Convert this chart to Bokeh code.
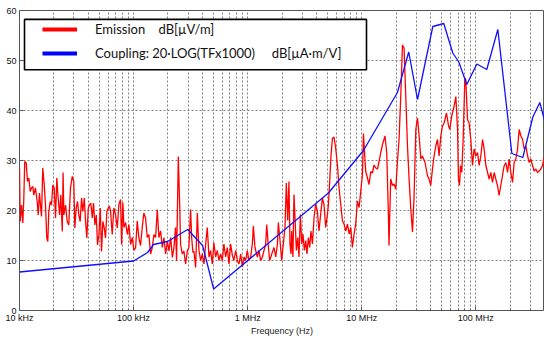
import numpy as np
from bokeh.plotting import figure
from bokeh.models import Range1d, FixedTicker, BoxAnnotation, Legend, LegendItem
from bokeh.embed import file_html
from bokeh.resources import INLINE

# Radiated emission sweep: log10(frequency / Hz) and level in dB[µV/m]
emission_log10_hz = [
    4.000, 4.006, 4.018, 4.029, 4.038, 4.046, 4.059, 4.070, 4.082, 4.094,
    4.105, 4.117, 4.125, 4.140, 4.155, 4.164, 4.175, 4.184, 4.193, 4.204,
    4.217, 4.228, 4.239, 4.248, 4.257, 4.269, 4.281, 4.292, 4.304, 4.316,
    4.327, 4.339, 4.351, 4.362, 4.375, 4.382, 4.389, 4.404, 4.418, 4.432,
    4.447, 4.462, 4.476, 4.485, 4.497, 4.509, 4.520, 4.532, 4.544, 4.555,
    4.568, 4.579, 4.590, 4.603, 4.614, 4.625, 4.638, 4.649, 4.661, 4.673,
    4.684, 4.696, 4.708, 4.719, 4.731, 4.743, 4.754, 4.766, 4.778, 4.789,
    4.798, 4.813, 4.827, 4.842, 4.857, 4.871, 4.886, 4.895, 4.906, 4.915,
    4.930, 4.945, 4.959, 4.974, 4.989, 5.003, 5.018, 5.032, 5.046, 5.061,
    5.076, 5.090, 5.105, 5.120, 5.134, 5.149, 5.164, 5.178, 5.193, 5.208,
    5.222, 5.237, 5.252, 5.266, 5.281, 5.296, 5.310, 5.325, 5.340, 5.354,
    5.368, 5.377, 5.392, 5.404, 5.412, 5.427, 5.441, 5.456, 5.471, 5.485,
    5.500, 5.509, 5.520, 5.529, 5.544, 5.559, 5.573, 5.588, 5.602, 5.617,
    5.632, 5.646, 5.661, 5.675, 5.690, 5.704, 5.719, 5.734, 5.748, 5.763,
    5.778, 5.792, 5.807, 5.822, 5.836, 5.851, 5.866, 5.880, 5.895, 5.910,
    5.924, 5.939, 5.954, 5.968, 5.982, 5.997, 6.011, 6.026, 6.041, 6.050,
    6.064, 6.085, 6.099, 6.114, 6.129, 6.143, 6.158, 6.167, 6.182, 6.193,
    6.211, 6.231, 6.246, 6.261, 6.269, 6.281, 6.298, 6.313, 6.327, 6.339,
    6.351, 6.362, 6.371, 6.380, 6.386, 6.397, 6.406, 6.415, 6.427, 6.439,
    6.450, 6.462, 6.474, 6.485, 6.497, 6.509, 6.520, 6.532, 6.544, 6.555,
    6.568, 6.582, 6.596, 6.611, 6.625, 6.640, 6.655, 6.669, 6.684, 6.699,
    6.708, 6.719, 6.731, 6.743, 6.757, 6.772, 6.787, 6.801, 6.816, 6.831,
    6.845, 6.860, 6.875, 6.889, 6.904, 6.918, 6.933, 6.947, 6.962, 6.977,
    6.991, 7.006, 7.015, 7.026, 7.035, 7.050, 7.064, 7.079, 7.094, 7.108,
    7.123, 7.138, 7.152, 7.167, 7.182, 7.204, 7.219, 7.234, 7.239, 7.254,
    7.269, 7.283, 7.298, 7.313, 7.327, 7.342, 7.357, 7.371, 7.386, 7.401,
    7.415, 7.430, 7.445, 7.459, 7.474, 7.489, 7.503, 7.518, 7.532, 7.555,
    7.576, 7.590, 7.605, 7.620, 7.634, 7.649, 7.664, 7.678, 7.693, 7.708,
    7.722, 7.743, 7.761, 7.772, 7.789, 7.810, 7.825, 7.840, 7.848, 7.857,
    7.866, 7.877, 7.889, 7.904, 7.912, 7.927, 7.941, 7.956, 7.971, 7.985,
    8.000, 8.015, 8.029, 8.044, 8.059, 8.073, 8.088, 8.103, 8.117, 8.132,
    8.146, 8.161, 8.175, 8.190, 8.204, 8.219, 8.234, 8.248, 8.263, 8.278,
    8.292, 8.307, 8.322, 8.336, 8.351, 8.366, 8.380, 8.395, 8.410, 8.424,
    8.439, 8.454, 8.468, 8.482, 8.497, 8.511, 8.526, 8.541, 8.555, 8.570,
    8.585, 8.599, 8.614,
]
emission_db = [
    28.5, 17.8, 21.1, 17.5, 22.5, 29.8, 29.5, 25.8, 26.5, 23.8,
    24.5, 24.8, 23.1, 24.5, 21.8, 19.1, 23.5, 21.1, 18.8, 28.5,
    25.1, 21.1, 14.5, 13.8, 19.8, 21.8, 21.1, 25.1, 24.5, 18.5,
    26.5, 22.5, 19.1, 23.1, 15.8, 27.6, 19.1, 21.1, 17.8, 17.1,
    24.5, 26.8, 25.8, 16.5, 20.5, 21.8, 19.1, 17.8, 22.5, 19.8,
    22.5, 17.8, 14.5, 20.5, 21.1, 21.5, 18.5, 21.5, 17.1, 19.1,
    13.1, 15.1, 20.5, 11.8, 17.8, 16.5, 14.5, 19.8, 20.5, 20.8,
    19.9, 15.2, 20.5, 19.2, 16.5, 21.2, 22.2, 13.2, 21.6, 16.6,
    17.6, 15.2, 17.2, 13.2, 14.6, 12.0, 12.6, 17.9, 14.6, 13.0,
    16.6, 19.5, 18.5, 14.6, 15.2, 11.3, 12.6, 15.2, 14.6, 20.2,
    14.6, 15.9, 12.6, 14.6, 11.3, 13.9, 11.9, 14.6, 10.6, 12.6,
    16.6, 9.9, 30.8, 21.2, 13.2, 11.3, 11.9, 9.3, 11.9, 12.6,
    20.2, 14.6, 11.6, 11.9, 8.6, 19.5, 12.0, 10.0, 11.3, 9.3,
    13.3, 16.6, 10.7, 12.0, 9.3, 13.6, 10.7, 12.0, 10.0, 11.3,
    10.0, 13.3, 10.7, 12.6, 9.3, 13.3, 11.0, 10.0, 12.0, 10.0,
    9.3, 11.3, 8.7, 10.7, 10.0, 12.0, 10.0, 10.7, 13.3, 16.9,
    12.6, 10.7, 12.0, 10.0, 10.7, 12.0, 13.3, 17.2, 12.6, 10.0,
    11.3, 12.6, 10.7, 13.3, 17.6, 14.7, 10.0, 13.3, 16.6, 25.5,
    18.0, 25.8, 13.3, 11.3, 15.9, 10.7, 23.2, 18.6, 12.0, 14.6,
    10.7, 19.2, 13.3, 15.3, 12.0, 14.0, 11.3, 14.6, 12.6, 15.9,
    13.3, 18.6, 21.2, 19.9, 15.9, 19.2, 22.5, 21.2, 16.6, 19.2,
    21.2, 25.8, 31.1, 34.4, 34.7, 32.4, 29.1, 24.5, 21.2, 17.9,
    17.3, 15.9, 17.3, 15.3, 16.6, 12.6, 15.3, 17.3, 21.9, 20.6,
    23.8, 27.1, 35.4, 31.1, 27.8, 26.5, 25.2, 27.8, 27.5, 29.1,
    28.5, 28.3, 29.8, 31.6, 33.2, 34.9, 31.6, 19.0, 13.0, 26.3,
    25.0, 25.3, 24.3, 29.6, 34.2, 42.8, 53.1, 52.5, 42.8, 32.9,
    26.3, 20.3, 15.7, 23.0, 36.2, 38.5, 34.9, 30.3, 30.9, 29.6,
    27.0, 26.3, 25.0, 28.3, 30.9, 32.9, 34.2, 30.9, 34.9, 36.9,
    37.5, 39.5, 36.9, 36.2, 38.9, 40.9, 42.8, 36.2, 26.3, 25.0,
    29.0, 27.6, 34.2, 46.5, 46.2, 38.2, 37.5, 34.2, 29.0, 32.3,
    30.9, 31.6, 29.0, 30.9, 34.2, 32.3, 29.0, 27.6, 26.3, 27.6,
    25.6, 27.6, 26.3, 25.0, 23.0, 25.0, 27.0, 28.9, 29.6, 27.6,
    30.3, 27.6, 25.6, 29.6, 30.3, 32.3, 36.2, 34.9, 34.2, 32.3,
    32.9, 30.9, 29.6, 30.3, 29.0, 27.9, 28.3, 27.6, 27.9, 28.3,
    29.0, 30.6, 29.5,
]

# Coupling curve 20*log10(TF x 1000) in dB[µA·m/V], at its corner frequencies
coupling_log10_hz = [
    4.000, 5.000, 5.123, 5.175, 5.298, 5.474, 5.605, 5.702, 6.708, 7.015,
    7.313, 7.412, 7.489, 7.623, 7.719, 7.798, 7.851, 7.921, 8.009, 8.096,
    8.193, 8.316, 8.412, 8.500, 8.561, 8.614,
]
coupling_db = [
    7.7, 9.9, 11.6, 13.2, 13.8, 16.2, 13.0, 4.3, 23.5, 32.0,
    43.6, 51.7, 42.2, 56.8, 57.4, 51.5, 49.7, 45.2, 49.3, 48.2,
    56.2, 31.4, 30.6, 38.7, 41.6, 37.0,
]

freq_ticks_hz = [1e4, 1e5, 1e6, 1e7, 1e8]
freq_tick_labels = ["10 kHz", "100 kHz", "1 MHz", "10 MHz", "100 MHz"]
level_ticks = [0, 10, 20, 30, 40, 50, 60]

emission_label = "Emission\u00a0\u00a0\u00a0\u00a0dB[µV/m]"
coupling_label = "Coupling: 20·LOG(TFx1000)\u00a0\u00a0\u00a0\u00a0\u00a0dB[µA·m/V]"

F_MIN, F_MAX = 1e4, 4e8
DB_MIN, DB_MAX = 0, 60

p = figure(
    width=544, height=338,
    x_axis_type="log",
    x_range=Range1d(F_MIN, F_MAX), y_range=Range1d(DB_MIN, DB_MAX),
    output_backend="svg", toolbar_location=None,
    min_border_left=19, min_border_right=0, min_border_top=10, min_border_bottom=24,
    background_fill_color="white", border_fill_color="white",
    outline_line_color="#555555", outline_line_width=1,
)

tick_font = "Liberation Sans"

minor_hz = [m * 10 ** e for e in range(4, 9) for m in range(2, 10) if m * 10 ** e <= F_MAX]
xa = p.xaxis[0]
xa.ticker = FixedTicker(ticks=freq_ticks_hz, minor_ticks=minor_hz)
xa.major_label_overrides = {t: lab for t, lab in zip(freq_ticks_hz, freq_tick_labels)}
xa.axis_label = "Frequency (Hz)"
xa.axis_label_text_font = tick_font
xa.axis_label_text_font_size = "9px"
xa.axis_label_text_font_style = "normal"
xa.axis_label_text_color = "#222222"
xa.axis_label_standoff = 0
xa.major_label_text_font = tick_font
xa.major_label_text_font_size = "9px"
xa.major_label_text_color = "#111111"
xa.major_label_standoff = 2
xa.major_tick_out = 0
xa.major_tick_in = 4
xa.minor_tick_out = 0
xa.minor_tick_in = 2
xa.major_tick_line_color = "#555555"
xa.minor_tick_line_color = "#555555"
xa.axis_line_color = None

ya = p.yaxis[0]
ya.ticker = FixedTicker(ticks=level_ticks)
ya.major_label_text_font = tick_font
ya.major_label_text_font_size = "9px"
ya.major_label_text_color = "#111111"
ya.major_label_standoff = 3
ya.major_tick_out = 0
ya.major_tick_in = 4
ya.minor_tick_in = 0
ya.minor_tick_out = 0
ya.major_tick_line_color = "#555555"
ya.axis_line_color = None

grid_color = "#808080"
p.xgrid.grid_line_color = grid_color
p.xgrid.grid_line_dash = "2 2"
p.xgrid.minor_grid_line_color = grid_color
p.xgrid.minor_grid_line_dash = "2 2"
p.ygrid.grid_line_color = grid_color
p.ygrid.grid_line_dash = "2 2"

emission_hz = 10 ** np.array(emission_log10_hz)
coupling_hz = 10 ** np.array(coupling_log10_hz)

p.line(emission_hz, emission_db, line_color="#ff0000", line_width=1.3)
p.line(coupling_hz, coupling_db, line_color="#1010ff", line_width=1.3)

# Thick swatches for the legend: a single NaN point, so nothing shows in the plot
sw_red = p.line([np.nan], [np.nan], line_color="#ff0000", line_width=4)
sw_blue = p.line([np.nan], [np.nan], line_color="#0000ff", line_width=4)

# Legend frame: pixel offsets inside the plot frame turned into data coordinates
FRAME_W, FRAME_H = 525, 304
def frame_x(px):
    return F_MIN * (F_MAX / F_MIN) ** (px / FRAME_W)
def frame_y(py):
    return DB_MAX - (DB_MAX - DB_MIN) * py / FRAME_H

legend_box = BoxAnnotation(
    left=frame_x(5), right=frame_x(347), top=frame_y(9), bottom=frame_y(60),
    fill_color="white", fill_alpha=1.0,
    line_color="black", line_alpha=1.0, line_width=1.6,
)
p.add_layout(legend_box)

legend = Legend(
    items=[LegendItem(label=emission_label, renderers=[sw_red]),
           LegendItem(label=coupling_label, renderers=[sw_blue])],
    location=(13, 239),
    padding=10, spacing=8,
    glyph_width=35, glyph_height=16, label_height=16,
    label_standoff=18,
    label_text_font="Lato", label_text_font_size="13px", label_text_color="#111111",
    border_line_alpha=0, background_fill_alpha=0,
    margin=0,
)
p.add_layout(legend, "center")

open("out.html", "w").write(file_html(p, INLINE))
